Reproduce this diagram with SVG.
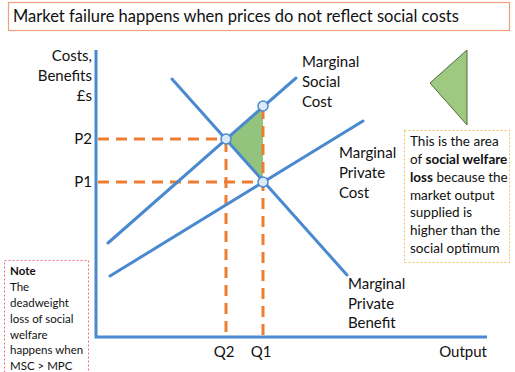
<svg xmlns="http://www.w3.org/2000/svg" width="515" height="372" viewBox="0 0 515 372">
<style>
text{font-family:Lato,"Open Sans","Liberation Sans",sans-serif;fill:#111;}
.lbl{font-size:15px;}
.small{font-size:11.5px;}
.info{font-size:13.5px;}
.axis{stroke:#4a89cf;stroke-width:3;fill:none;}
.curve{stroke:#4a89cf;stroke-width:3;fill:none;stroke-linecap:round;}
.dash{stroke:#ed7d31;stroke-width:3;stroke-dasharray:11 7;fill:none;}
.pt{fill:#dde9f6;stroke:#4a89cf;stroke-width:1.5;}
</style>
<rect width="515" height="372" fill="#fff"/>
<g id="title">
<rect x="8.5" y="2.5" width="501" height="28" fill="#fff" stroke="#f0a07a" stroke-width="1.2"/>
<text x="13" y="22" style="font-size:16.5px">Market failure happens when prices do not reflect social costs</text>
</g>
<g id="axes">
<polyline class="axis" points="96,50 96,337 487,337"/>
<text class="lbl" x="92" y="61" text-anchor="end">Costs,</text>
<text class="lbl" x="92" y="81" text-anchor="end">Benefits</text>
<text class="lbl" x="92" y="101" text-anchor="end">£s</text>
<text class="lbl" x="92" y="144" text-anchor="end">P2</text>
<text class="lbl" x="92" y="187" text-anchor="end">P1</text>
<text class="lbl" x="224" y="357" text-anchor="middle">Q2</text>
<text class="lbl" x="261" y="357" text-anchor="middle">Q1</text>
<text class="lbl" x="487" y="357" text-anchor="end">Output</text>
</g>
<g id="welfare-loss">
<polygon points="226,139 263,106 263,182" fill="#93c47d"/>
</g>
<g id="connectors">
<line class="dash" x1="98" y1="139" x2="224" y2="139"/>
<line class="dash" x1="98" y1="182" x2="261" y2="182"/>
<line class="dash" x1="226" y1="141" x2="226" y2="336"/>
<line class="dash" x1="263" y1="108" x2="263" y2="336"/>
</g>
<g id="msc">
<line class="curve" x1="108" y1="243" x2="296" y2="78"/>
<text class="lbl" x="302" y="67">Marginal</text>
<text class="lbl" x="302" y="87">Social</text>
<text class="lbl" x="302" y="107">Cost</text>
</g>
<g id="mpc">
<line class="curve" x1="110" y1="276" x2="363" y2="121"/>
<text class="lbl" x="339" y="158">Marginal</text>
<text class="lbl" x="339" y="178">Private</text>
<text class="lbl" x="339" y="198">Cost</text>
</g>
<g id="mpb">
<line class="curve" x1="172" y1="79" x2="347" y2="275"/>
<text class="lbl" x="348" y="289">Marginal</text>
<text class="lbl" x="348" y="309">Private</text>
<text class="lbl" x="348" y="328">Benefit</text>
</g>
<g id="points">
<circle class="pt" cx="226" cy="139" r="5"/>
<circle class="pt" cx="263" cy="106" r="5"/>
<circle class="pt" cx="263" cy="182" r="5"/>
</g>
<g id="legend-triangle">
<polygon points="467,50 430,83 467,125" fill="#9dc981" stroke="#4f6b3a" stroke-width="1"/>
</g>
<g id="info-box">
<rect x="404.5" y="130.5" width="105" height="132" fill="#fff" stroke="#f2c05a" stroke-width="1" stroke-dasharray="2 2"/>
<text class="info" x="410" y="146">This is the area</text>
<text class="info" x="410" y="164">of <tspan font-weight="bold">social welfare</tspan></text>
<text class="info" x="410" y="182"><tspan font-weight="bold">loss</tspan> because the</text>
<text class="info" x="410" y="200">market output</text>
<text class="info" x="410" y="217">supplied is</text>
<text class="info" x="410" y="235">higher than the</text>
<text class="info" x="410" y="253">social optimum</text>
</g>
<g id="note-box">
<rect x="4.5" y="260.5" width="84" height="120" fill="#fff" stroke="#e8708a" stroke-width="1" stroke-dasharray="2 2"/>
<text class="small" x="10" y="275" font-weight="bold">Note</text>
<text class="small" x="10" y="291">The</text>
<text class="small" x="10" y="307">deadweight</text>
<text class="small" x="10" y="323">loss of social</text>
<text class="small" x="10" y="339">welfare</text>
<text class="small" x="10" y="354">happens when</text>
<text class="small" x="10" y="370">MSC &gt; MPC</text>
</g>
</svg>
